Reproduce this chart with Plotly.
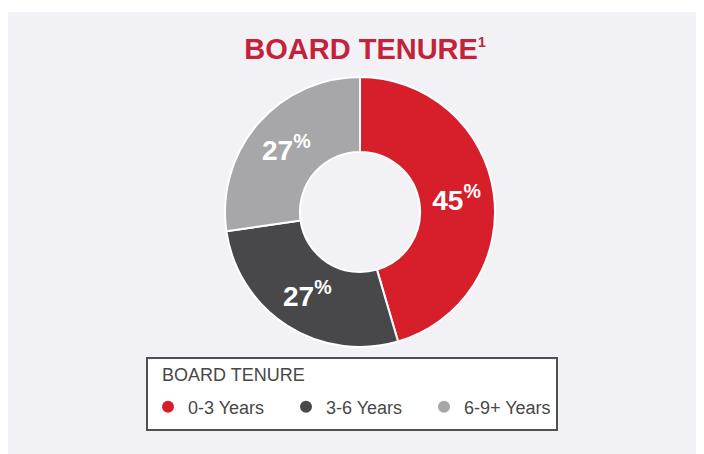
import plotly.graph_objects as go

categories = ["0-3 Years", "3-6 Years", "6-9+ Years"]
values = [45, 27, 27]
labels_text = ["45<sup>%</sup>", "27<sup>%</sup>", "27<sup>%</sup>"]
colors = ["#d71e2b", "#48484b", "#a7a7aa"]
legend_title = "BOARD TENURE"

# the page adds an 8px body margin, so figure coords = screen coords - 8
W, H = 696, 446
cx, cy, r = 352, 204, 135
box_x0, box_x1, box_y0, box_y1 = 139, 549, 350, 422

fig = go.Figure()
fig.add_trace(go.Pie(
    labels=categories, values=values, text=labels_text,
    textinfo="text", textposition="inside", sort=False, direction="clockwise", rotation=0,
    hole=0.445,
    marker=dict(colors=colors, line=dict(color="#ffffff", width=2)),
    textfont=dict(family="Liberation Sans, Arial", size=28, color="white", weight="bold"),
    insidetextorientation="horizontal",
    domain=dict(x=[(cx - r) / W, (cx + r) / W], y=[1 - (cy + r) / H, 1 - (cy - r) / H]),
    showlegend=False, hoverinfo="label+percent",
))
for name, col in zip(categories, colors):
    fig.add_trace(go.Scatter(
        x=[None], y=[None], mode="markers", name=name,
        marker=dict(color=col, size=15, symbol="circle"),
    ))

fig.update_layout(
    width=W, height=H,
    margin=dict(l=0, r=0, t=0, b=0, autoexpand=False),
    paper_bgcolor="#ffffff", plot_bgcolor="rgba(0,0,0,0)",
    xaxis=dict(visible=False), yaxis=dict(visible=False),
    title=dict(
        text="BOARD TENURE<sup><span style='font-size:14px'>1</span></sup>", x=357 / W, xanchor="center",
        y=1 - 41 / H, yanchor="middle",
        font=dict(family="Liberation Sans, Arial", size=29, color="#c4223a", weight="bold"),
    ),
    legend=dict(
        orientation="h", x=(box_x0 + 1) / W, xanchor="left", y=1 - 399 / H, yanchor="middle",
        bgcolor="rgba(0,0,0,0)", borderwidth=0,
        font=dict(family="Liberation Sans, Arial", size=18, color="#474747"),
        entrywidth=93, itemsizing="constant",
    ),
    annotations=[dict(
        text=legend_title, xref="paper", yref="paper", x=152 / W, y=1 - 367 / H,
        xanchor="left", yanchor="middle", showarrow=False,
        font=dict(family="Liberation Sans, Arial", size=18, color="#474747"),
    )],
    shapes=[
        dict(type="rect", xref="paper", yref="paper", x0=0, x1=1, y0=0, y1=1 - 4 / H,
             fillcolor="#f2f2f6", line=dict(width=0), layer="below"),
        dict(type="rect", xref="paper", yref="paper", x0=box_x0 / W, x1=box_x1 / W,
             y0=1 - box_y1 / H, y1=1 - box_y0 / H,
             fillcolor="#ffffff", line=dict(color="#505050", width=2), layer="below"),
    ],
)
fig.write_html("out.html")
